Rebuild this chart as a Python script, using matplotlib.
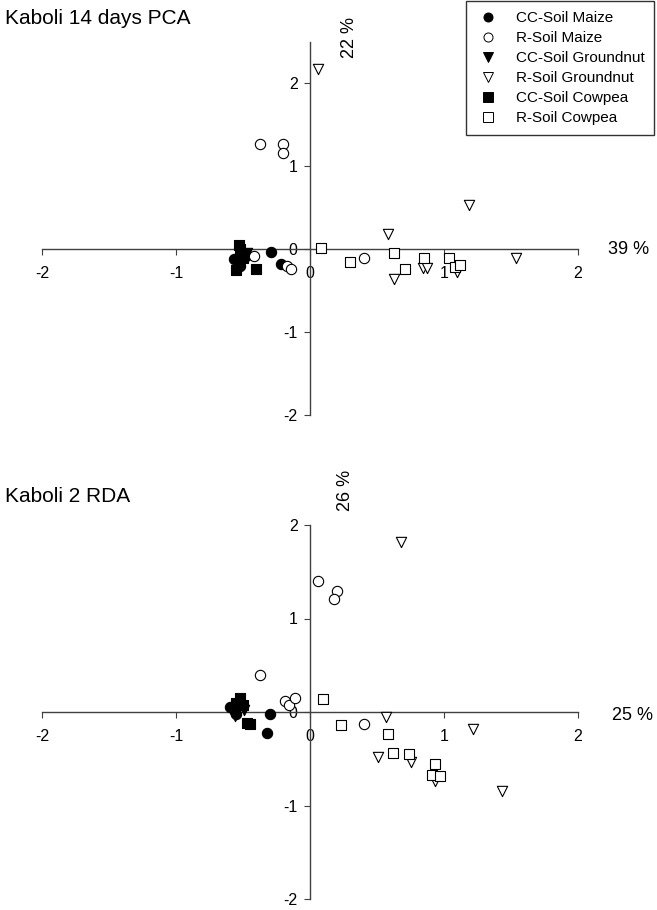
import matplotlib
matplotlib.use("Agg")
import matplotlib.pyplot as plt
from matplotlib.lines import Line2D

plt.rcParams['font.family'] = ['Liberation Sans', 'DejaVu Sans']

W, H = 657, 910
DPI = 100

labels = ["CC-Soil Maize", "R-Soil Maize", "CC-Soil Groundnut",
          "R-Soil Groundnut", "CC-Soil Cowpea", "R-Soil Cowpea"]
markers = ["o", "o", "v", "v", "s", "s"]
filled = [True, False, True, False, True, False]

# ---- Top: Kaboli 14 days PCA ----
pca_cc_maize_x = [-0.29, -0.22, -0.57, -0.52, -0.48]
pca_cc_maize_y = [-0.03, -0.18, -0.12, -0.20, -0.08]
pca_r_maize_x = [-0.37, -0.20, -0.20, 0.40, -0.42, -0.17, -0.14]
pca_r_maize_y = [1.27, 1.27, 1.16, -0.10, -0.08, -0.20, -0.24]
pca_cc_gnut_x = [-0.55, -0.50, -0.52, -0.47]
pca_cc_gnut_y = [-0.18, -0.15, -0.22, -0.05]
pca_r_gnut_x = [0.06, 0.58, 1.19, 1.54, 0.63, 0.84, 0.87, 1.10]
pca_r_gnut_y = [2.17, 0.18, 0.53, -0.10, -0.36, -0.23, -0.23, -0.28]
pca_cc_cow_x = [-0.53, -0.52, -0.40, -0.50, -0.55]
pca_cc_cow_y = [0.05, 0.00, -0.24, -0.10, -0.25]
pca_r_cow_x = [0.08, 0.30, 0.63, 0.71, 0.85, 1.04, 1.08, 1.12]
pca_r_cow_y = [0.01, -0.16, -0.04, -0.24, -0.11, -0.10, -0.22, -0.19]

# ---- Bottom: Kaboli 2 RDA ----
rda_cc_maize_x = [-0.30, -0.32, -0.60, -0.55, -0.50]
rda_cc_maize_y = [-0.02, -0.22, 0.05, -0.02, 0.08]
rda_r_maize_x = [0.06, 0.20, 0.18, 0.40, -0.37, -0.19, -0.16, -0.11]
rda_r_maize_y = [1.40, 1.29, 1.21, -0.13, 0.40, 0.12, 0.08, 0.15]
rda_cc_gnut_x = [-0.58, -0.53, -0.56, -0.49]
rda_cc_gnut_y = [0.00, 0.05, -0.04, 0.02]
rda_r_gnut_x = [0.68, 0.57, 0.51, 0.75, 1.22, 1.43, 0.93]
rda_r_gnut_y = [1.82, -0.05, -0.48, -0.53, -0.18, -0.84, -0.74]
rda_cc_cow_x = [-0.52, -0.50, -0.47, -0.45, -0.55]
rda_cc_cow_y = [0.15, 0.08, -0.12, -0.13, 0.10]
rda_r_cow_x = [0.10, 0.23, 0.58, 0.62, 0.74, 0.93, 0.91, 0.97]
rda_r_cow_y = [0.14, -0.14, -0.24, -0.44, -0.45, -0.56, -0.67, -0.68]

xticks = [-2, -1, 0, 1, 2]
yticks = [-2, -1, 0, 1, 2]

fig = plt.figure(figsize=(W / DPI, H / DPI), dpi=DPI)

def px_box(x0, x1, ytop, ybot):
    return [x0 / W, 1 - ybot / H, (x1 - x0) / W, (ybot - ytop) / H]

ax1 = fig.add_axes(px_box(42, 578, 42, 415))
ax2 = fig.add_axes(px_box(42, 578, 525, 899))

def setup(ax, ylim):
    ax.set_xlim(-2, 2)
    ax.set_ylim(*ylim)
    for s in ["top", "right"]:
        ax.spines[s].set_visible(False)
    ax.spines["left"].set_position(("data", 0))
    ax.spines["bottom"].set_position(("data", 0))
    ax.spines["left"].set_bounds(ylim[0], ylim[1])
    ax.spines["bottom"].set_bounds(-2, 2)
    for s in ["left", "bottom"]:
        ax.spines[s].set_color("#404040")
        ax.spines[s].set_linewidth(1.0)
    ax.set_xticks(xticks)
    ax.set_yticks(yticks)
    ax.set_xticklabels([str(t) for t in xticks])
    ax.set_yticklabels([str(t) for t in yticks])
    ax.tick_params(direction="out", length=4, width=0.8, color="#404040",
                   labelsize=11.5)
    ax.tick_params(axis="x", pad=8)
    ax.tick_params(axis="y", pad=5)
    ax.patch.set_alpha(0)

def draw(ax, sets):
    for (x, y), m, f in zip(sets, markers, filled):
        ax.scatter(x, y, marker=m, s=55,
                   facecolors="black" if f else "white",
                   edgecolors="black", linewidths=0.8, zorder=3, clip_on=False)

setup(ax1, (-2, 2.5))
setup(ax2, (-2, 2))

draw(ax1, [(pca_cc_maize_x, pca_cc_maize_y), (pca_r_maize_x, pca_r_maize_y),
           (pca_cc_gnut_x, pca_cc_gnut_y), (pca_r_gnut_x, pca_r_gnut_y),
           (pca_cc_cow_x, pca_cc_cow_y), (pca_r_cow_x, pca_r_cow_y)])
draw(ax2, [(rda_cc_maize_x, rda_cc_maize_y), (rda_r_maize_x, rda_r_maize_y),
           (rda_cc_gnut_x, rda_cc_gnut_y), (rda_r_gnut_x, rda_r_gnut_y),
           (rda_cc_cow_x, rda_cc_cow_y), (rda_r_cow_x, rda_r_cow_y)])

# Titles and axis percentage labels
fig.text(5 / W, 1 - 18 / H, "Kaboli 14 days PCA", fontsize=15, ha="left", va="center")
fig.text(5 / W, 1 - 497 / H, "Kaboli 2 RDA", fontsize=15, ha="left", va="center")
fig.text(350 / W, 1 - 37 / H, "22 %", fontsize=13, rotation=90, ha="center", va="center")
fig.text(345 / W, 1 - 490 / H, "26 %", fontsize=13, rotation=90, ha="center", va="center")
fig.text(608 / W, 1 - 250 / H, "39 %", fontsize=13, ha="left", va="center")
fig.text(612 / W, 1 - 716 / H, "25 %", fontsize=13, ha="left", va="center")

handles = [Line2D([], [], linestyle="none", marker=m, markersize=6.5,
                  markerfacecolor="black" if f else "white",
                  markeredgecolor="black", markeredgewidth=0.7)
           for m, f in zip(markers, filled)]
leg = fig.legend(handles, labels, loc="upper left",
                 bbox_to_anchor=(466 / W, 1 - 1 / H), fontsize=11,
                 frameon=True, fancybox=False, borderpad=0.65,
                 labelspacing=0.4, handletextpad=1.0, handlelength=1.6,
                 borderaxespad=0)
leg.get_frame().set_edgecolor("black")
leg.get_frame().set_linewidth(1.0)

fig.savefig("out.png", dpi=DPI)
